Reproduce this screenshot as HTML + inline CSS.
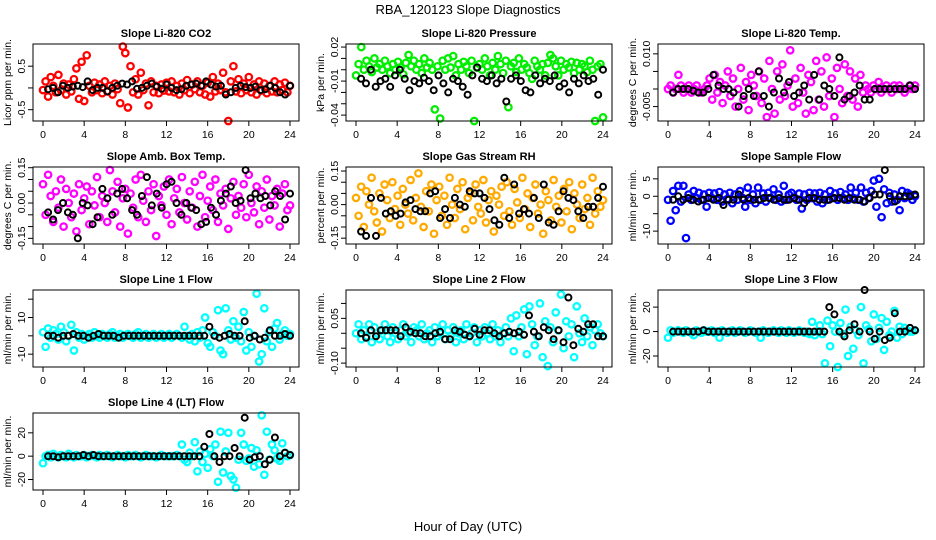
<!DOCTYPE html>
<html><head><meta charset="utf-8"><title>RBA_120123 Slope Diagnostics</title>
<style>
html,body{margin:0;padding:0;background:#fff;}
svg{display:block;font-family:"Liberation Sans",sans-serif;}
</style></head>
<body>
<svg id="chart" width="936" height="540" viewBox="0 0 936 540">
<rect x="0" y="0" width="936" height="540" fill="#fff"/>
<text x="468" y="14" text-anchor="middle" font-size="13">RBA_120123  Slope Diagnostics</text>
<text x="468" y="531" text-anchor="middle" font-size="13">Hour of Day (UTC)</text>
</svg>
<script>
// ---- data (hourly-indexed slope values; colored = all samples, ref = black reference points) ----
const xTicks = [0,4,8,12,16,20,24];
const xTickLabels = ["0","4","8","12","16","20","24"];

const co2Vals = [-5,15,-20,25,5,-10,30,-5,10,-15,8,-8,20,45,-25,60,-30,75,5,-10,12,-5,8,-12,15,-8,5,-15,10,-3,-35,95,80,-45,50,-10,20,-15,35,-5,10,-40,15,-10,5,-12,8,-6,12,-8,15,-10,5,-15,10,-5,18,-12,8,-3,15,-10,5,-15,12,-20,25,-8,10,-5,35,-10,-80,15,50,-8,20,-12,10,-5,25,-10,8,-15,15,-6,10,-12,5,-8,15,-10,8,-5,12,-10,5];
const co2Ref = [-3,0,-10,5,0,3,5,2,15,-5,0,0,-8,0,5,10,8,15,-2,0,5,10,3,-2,8,0,-5,-3,5,8,10,5,15,8,3,5,-15,-10,0,5,2,0,3,-5,-3,5,0,-10,-15,5];
const co2Ticks = [-0.5,0,0.5];
const co2TickLabels = ["-0.5","","0.5"];

const presVals = [-5,5,20,0,8,3,-2,10,2,5,0,8,3,-3,5,0,7,2,-4,6,13,3,8,0,5,-3,10,2,6,0,-35,3,-43,8,0,10,2,12,-5,5,0,7,3,-3,8,-48,2,5,0,10,3,-5,6,0,12,5,-3,8,-33,3,6,-2,10,0,5,2,-3,-8,8,3,0,5,-5,6,13,10,3,-5,8,0,5,2,7,-3,6,0,5,3,-2,8,0,-50,3,5,-42];
const presRef = [-8,-12,0,-15,-10,-8,-15,-5,0,-8,-18,-10,-12,-7,-10,-18,-5,-12,-20,-8,-10,-15,-22,-5,2,-8,-10,-5,-12,-8,-28,-8,-5,-10,-18,-20,-5,-12,-8,-10,-5,-15,-12,-20,-8,-12,-5,-10,-8,-22,0];
const presTicks = [-0.04,-0.03,-0.02,-0.01,0,0.01,0.02];
const presTickLabels = ["-0.04","","","-0.01","","","0.02"];

const tempVals = [0,1,-1,0,4,1,-1,0,1,-1,0,1,-1,-1,0,1,3,-3,4,-1,2,-4,1,5,-2,3,-5,0,6,-3,2,-6,4,1,-2,5,-4,3,-8,8,0,-7,5,-3,7,-2,1,11,-5,3,-4,6,-1,-7,4,2,-6,8,-3,5,-5,9,-2,3,-8,6,0,-4,7,-2,5,-3,3,-5,4,-1,1,0,-1,1,0,2,-1,0,1,0,-1,1,0,1,0,-1,0,1,0,1];
const tempRef = [-1,0,0,0,-0.5,-1,-1,0,4,1,0,0,-1,-5,-2,0,-2,5,-2,-5,-1,3,-1,2,-2,-1,1,-3,4,-3,1,0,-2,9,-3,-2,-1,1,-3,-3,0,0,0,0,0,0,0,1,0];
const tempTicks = [-0.005,0,0.005,0.010];
const tempTickLabels = ["-0.005","","","0.010"];

const ambVals = [8,-5,12,3,-8,5,-2,10,-10,6,0,-6,4,-12,8,-3,2,7,-9,5,-1,11,-6,3,0,-8,14,5,-4,9,-10,2,6,-13,4,-2,10,-6,12,1,-8,5,-3,8,-14,3,-1,7,-5,10,-9,2,6,-4,11,0,-7,5,-2,9,-10,3,12,-6,1,7,-3,10,-8,4,-1,6,-11,2,9,-5,3,-2,8,-6,12,0,-4,7,-9,5,-2,10,-7,3,-1,6,-10,4,8,-3,-1];
const ambRef = [-4,-7,-3,0,-4,-5,-15,0,-1,-9,-6,6,2,-5,4,6,2,-3,-5,3,11,-1,4,-2,8,9,0,-5,0,-2,-3,-9,-8,-2,-5,1,4,7,0,1,14,2,4,2,3,-1,5,3,-7,4];
const ambTicks = [-0.15,-0.10,-0.05,0,0.05,0.10,0.15];
const ambTickLabels = ["-0.15","","","0.00","","","0.15"];

const rhVals = [3,-5,8,-10,6,0,12,-3,-8,5,-12,9,2,-6,10,-2,4,-9,7,0,-4,11,-7,3,14,-1,-10,6,-3,9,-13,2,8,-5,4,-9,12,0,-6,7,-2,10,-11,3,5,-7,9,-1,-4,11,-8,2,6,-12,4,0,8,-5,10,-3,-9,7,1,-6,12,-2,5,-10,3,9,-4,0,-13,6,2,-7,11,-1,4,-8,7,-3,10,-11,5,0,-6,9,-2,3,-9,12,-4,6,-1,2];
const rhRef = [-12,-14,3,-14,3,-4,-3,-5,-4,1,2,-2,-3,-3,5,6,-6,-2,-6,3,0,-1,6,5,5,3,-2,-7,-9,12,-6,9,-4,-2,-4,3,-6,9,-8,-9,-3,6,3,2,-3,-6,-1,-1,3,8];
const rhTicks = [-0.15,-0.10,-0.05,0,0.05,0.10,0.15];
const rhTickLabels = ["-0.15","","","0.00","","","0.15"];

const sampVals = [-1,-7,1.5,-4,3,-1.5,3,-12,0.5,-1,1.5,-0.5,1,-1,0.5,-3,1,-0.5,0.8,-1,1.2,-1.5,0.5,-0.8,1,-2,0.5,-1,1.5,-0.5,-3,2.5,-1,0.5,-2,2.5,-1,0.8,-1.5,1,-0.5,2,-1,0.5,-1.5,3,-1,0.5,1,-0.5,-1,0.8,-3.5,0.5,-1,1,-0.5,0.8,-1.5,1,-2,0.5,-1,1.5,-0.5,0.8,-1,1.2,-0.5,0.5,-1,2.5,-0.5,1,-1,2.5,-1.5,1,-0.5,1.5,4.5,-3,5,-6,2,-2,1,-1.5,0.5,-1,-4,1.5,-0.5,1,0.5,-1,0];
const sampRef = [-1,0,-1,-0.5,-1,-1.5,-1,-0.5,-1,-0.5,-2.5,-1,-1,0.5,-1,-0.5,-1,-1,-0.5,-0.5,-1,-0.5,-1,-1,-0.5,-1,-2,-0.5,-0.5,-1,-1,-1,-0.5,-0.5,-1,-0.5,-1,-1,-1.5,-0.5,0.5,0.5,7.5,0,-1.5,0,0,0,0.5];
const sampTicks = [-10,-5,0,5];
const sampTickLabels = ["-10","","0","5"];

const l1Vals = [2,-6,4,-1,3,1,-2,5,2,-3,0,6,-8,2,-1,1,-2,0,1,-1,2,0,-1,1,0,-1,1,2,-1,0,1,-1,0,1,0,-1,1,2,-1,0,1,-1,0,1,-1,0,1,-1,0,1,-1,0,1,0,-1,5,0,-2,1,-3,2,-1,3,10,-4,-6,2,0,14,-8,-10,15,3,-2,8,-1,5,-3,13,-8,2,-6,0,23,-14,-10,15,-3,2,-6,4,7,-2,1,3,0,1];
const l1Ref = [0,0,-1,0,0,1,0,0,-1,0,1,0,0,0,-1,0,0,0,0,0,0,0,0,0,0,0,0,0,0,0,0,0,5,0,-1,0,1,0,0,8,-1,0,-2,-1,3,0,0,1,0];
const l1Ticks = [-10,0,10,20];
const l1TickLabels = ["-10","","10",""];

const l2Vals = [0,3,-2,1,-1,3,-3,2,0,-2,1,3,-1,-3,2,0,-2,1,3,-1,0,-3,2,1,-1,3,-2,0,1,-3,2,-1,0,3,-2,1,-1,2,-3,0,1,-2,3,-1,0,2,-3,1,-1,2,0,-2,3,-1,1,-3,0,2,-1,5,-6,6,-1,2,8,-7,9,3,-4,-1,10,-8,4,-11,2,-3,7,1,13,-5,4,-1,3,-8,9,0,-3,5,-1,2,-4,1,3,0,-1];
const l2Ref = [0,-1.5,1,-1,1,1,1,1,-1,2,0.5,0,0,-1,-1,0,0.5,-2,-2,1,0.5,-0.5,-1,1.5,-0.5,1,1,0,-1,0,0.5,0,0.5,-0.5,6,0.5,-1,2,1,-2,1,-3,12,-4,1.5,0.5,3,3,-1,-1];
const l2Ticks = [-0.10,-0.05,0,0.05,0.10];
const l2TickLabels = ["-0.10","","","0.05",""];

const l3Vals = [-5,1,-1,0,1,0,-1,1,0,-1,-3,1,0,-1,1,0,0,1,-1,0,-5,1,0,-1,0,1,-1,0,1,0,-1,0,1,0,-1,0,-5,1,0,-1,0,1,0,-1,1,0,-1,1,0,-1,0,1,0,-1,0,-2,8,-3,0,5,-2,-26,9,-12,5,0,-30,7,-2,18,-20,4,-14,1,-3,20,-26,5,2,-8,14,-6,3,11,-15,8,-3,0,17,-5,4,-2,3,1,0,0,1];
const l3Ref = [0,0,0,0,0,0,1,0,0,0,0,0,0,0,0,0,0,0,0,0,0,0,0,0,0,0,0,0,0,0,0,20,14,0,-4,1,6,0,34,0,-6,0,-7,-5,15,0,0,3,1];
const l3Ticks = [-20,0,20];
const l3TickLabels = ["-20","0","20"];

const l4Vals = [-6,0,1,-1,2,0,-1,1,0,-1,2,0,-1,1,0,0,1,-1,0,1,0,-1,1,0,0,1,0,-1,0,1,0,0,-1,1,0,0,1,0,-1,0,1,0,0,0,-1,0,1,0,0,0,0,0,1,0,10,-3,-5,3,0,12,-13,4,-5,2,-10,6,0,10,-22,21,-14,4,20,-17,-20,-27,-3,20,10,-4,-2,7,-9,5,-7,35,-16,21,-3,10,5,-2,-4,11,3,0,1];
const l4Ref = [0,0,-1,0,0,0,0,1,0,1,0,0,0,0,0,0,0,0,0,0,0,0,0,0,0,0,0,0,0,0,0,8,19,0,-5,0,0,7,0,33,-3,-1,0,-7,-3,16,0,3,1];
const l4Ticks = [-20,0,20];
const l4TickLabels = ["-20","0","20"];

// ---- layout / styling ----
const NS = "http://www.w3.org/2000/svg";
const svg = document.getElementById("chart");
const colLeft = [33,346,658], rowTop = [44,167,290,413];
const BW = 266, BH = 77;

const panels = [
 {key:"co2", title:"Slope Li-820 CO2", ylab:"Licor ppm per min.", c:0, r:0, ymin:-0.76, ymax:1.01, k:0.01, vals:co2Vals, ref:co2Ref, ticks:co2Ticks, tl:co2TickLabels, color:"#ff0000"},
 {key:"pressure", title:"Slope Li-820 Pressure", ylab:"kPa per min.", c:1, r:0, ymin:-0.0452, ymax:0.0227, k:0.001, vals:presVals, ref:presRef, ticks:presTicks, tl:presTickLabels, color:"#00ee00"},
 {key:"li820-temp", title:"Slope Li-820 Temp.", ylab:"degrees C per min.", c:2, r:0, ymin:-0.0091, ymax:0.0128, k:0.001, vals:tempVals, ref:tempRef, ticks:tempTicks, tl:tempTickLabels, color:"#ff00ff"},
 {key:"amb-temp", title:"Slope Amb. Box Temp.", ylab:"degrees C per min.", c:0, r:1, ymin:-0.174, ymax:0.153, k:0.01, vals:ambVals, ref:ambRef, ticks:ambTicks, tl:ambTickLabels, color:"#ff00ff"},
 {key:"rh", title:"Slope Gas Stream RH", ylab:"percent per min.", c:1, r:1, ymin:-0.176, ymax:0.168, k:0.01, vals:rhVals, ref:rhRef, ticks:rhTicks, tl:rhTickLabels, color:"#ffaa00"},
 {key:"sample-flow", title:"Slope Sample Flow", ylab:"ml/min per min.", c:2, r:1, ymin:-13.7, ymax:8.4, k:1, vals:sampVals, ref:sampRef, ticks:sampTicks, tl:sampTickLabels, color:"#0000ff"},
 {key:"line1", title:"Slope Line 1 Flow", ylab:"ml/min per min.", c:0, r:2, ymin:-17, ymax:25, k:1, vals:l1Vals, ref:l1Ref, ticks:l1Ticks, tl:l1TickLabels, color:"#00ffff"},
 {key:"line2", title:"Slope Line 2 Flow", ylab:"ml/min per min.", c:1, r:2, ymin:-0.113, ymax:0.145, k:0.01, vals:l2Vals, ref:l2Ref, ticks:l2Ticks, tl:l2TickLabels, color:"#00ffff"},
 {key:"line3", title:"Slope Line 3 Flow", ylab:"ml/min per min.", c:2, r:2, ymin:-29, ymax:34, k:1, vals:l3Vals, ref:l3Ref, ticks:l3Ticks, tl:l3TickLabels, color:"#00ffff"},
 {key:"line4", title:"Slope Line 4 (LT) Flow", ylab:"ml/min per min.", c:0, r:3, ymin:-29, ymax:37, k:1, vals:l4Vals, ref:l4Ref, ticks:l4Ticks, tl:l4TickLabels, color:"#00ffff"}
];

function mk(tag, attrs, parent){
  const e = document.createElementNS(NS, tag);
  for (const a in attrs) e.setAttribute(a, attrs[a]);
  (parent||svg).appendChild(e);
  return e;
}

panels.forEach(p => {
  const L = colLeft[p.c], T = rowTop[p.r], B = T + BH, R = L + BW;
  const xs = h => L + 10 + h / 24 * 247;
  const ys = v => B - (v - p.ymin) / (p.ymax - p.ymin) * BH;
  const g = mk("g", {});
  
  

  const t = mk("text", {x:(L+R)/2, y:T-7, "text-anchor":"middle", "font-size":"11", "font-weight":"bold"}, g);
  t.textContent = p.title;
  
  

  const yl = mk("text", {transform:`translate(${L-22},${(T+B)/2}) rotate(-90)`, "text-anchor":"middle", "font-size":"10.5"}, g);
  yl.textContent = p.ylab;
  
  

  const pg = mk("g", {fill:"none", stroke:p.color, "stroke-width":"2.3"}, g);
  
  
  const n = p.vals.length;
  p.vals.forEach((v, i) => {
    const yv = Math.max(p.ymin, Math.min(p.ymax, v * p.k));
    const c = mk("circle", {cx:xs(i*24/(n-1)).toFixed(1), cy:ys(yv).toFixed(1), r:"3.2"}, pg);
    
    
  });
  const rg = mk("g", {fill:"none", stroke:"#000", "stroke-width":"2"}, g);
  
  
  const m = p.ref.length;
  p.ref.forEach((v, i) => {
    const yv = Math.max(p.ymin, Math.min(p.ymax, v * p.k));
    const c = mk("circle", {cx:xs(0.5 + i*23.5/(m-1)).toFixed(1), cy:ys(yv).toFixed(1), r:"3"}, rg);
    
    
  });

  const box = mk("rect", {x:L, y:T, width:BW, height:BH, fill:"none", stroke:"#000", "stroke-width":"1"}, g);
  
  

  const xg = mk("g", {}, g);
  
  
  xTicks.forEach((h, i) => {
    mk("line", {x1:xs(h), x2:xs(h), y1:B, y2:B+5, stroke:"#000"}, xg);
    const tx = mk("text", {x:xs(h), y:B+17, "text-anchor":"middle", "font-size":"10.5"}, xg);
    tx.textContent = xTickLabels[i];
    
    
  });
  const yg = mk("g", {}, g);
  
  
  p.ticks.forEach((v, i) => {
    mk("line", {x1:L-5, x2:L, y1:ys(v), y2:ys(v), stroke:"#000"}, yg);
    if (p.tl[i]) {
      const ty = mk("text", {transform:`translate(${L-8},${ys(v)}) rotate(-90)`, "text-anchor":"middle", "font-size":"10.5"}, yg);
      ty.textContent = p.tl[i];
      
      
    }
  });
});
</script>
</body></html>
